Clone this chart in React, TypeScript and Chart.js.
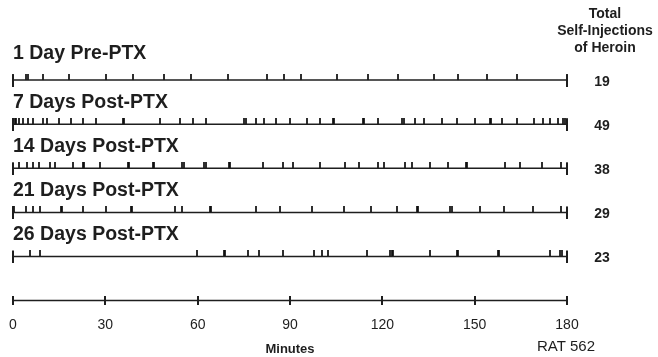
import React, { useEffect, useRef } from "react";
import { Chart, registerables } from "chart.js";

Chart.register(...registerables);

const rowLabels = ["1 Day Pre-PTX", "7 Days Post-PTX", "14 Days Post-PTX", "21 Days Post-PTX", "26 Days Post-PTX"];
const totals = [19, 49, 38, 29, 23];
const headerLines = ["Total", "Self-Injections", "of Heroin"];
const axisTicks = [0, 30, 60, 90, 120, 150, 180];
const sessionStart = 0;
const sessionEnd = 180;

const day1Pre = [4.2, 4.8, 9.7, 18.3, 30.2, 39.1, 48.9, 57.8, 69.8, 82.5, 88.1, 93.6, 105.3, 115.2, 125.0, 136.7, 144.5, 154.0, 163.8];
const day7Post = [0.1, 0.5, 1.0, 2.0, 3.1, 5.0, 6.6, 9.6, 11.1, 15.1, 18.8, 22.7, 27.0, 35.7, 36.1, 47.8, 54.3, 58.4, 62.7, 75.2, 75.6, 79.0, 81.4, 85.5, 90.1, 95.5, 99.8, 104.0, 104.4, 113.7, 114.1, 118.5, 126.5, 126.9, 130.7, 133.7, 139.4, 144.3, 150.2, 154.9, 155.3, 158.9, 163.8, 169.2, 172.3, 174.6, 177.0, 178.8, 179.5];
const day14Post = [2.05, 4.45, 6.6, 8.55, 12.0, 13.7, 19.4, 22.7, 23.1, 28.3, 37.3, 37.7, 45.4, 45.8, 55.0, 55.4, 62.2, 62.6, 70.1, 70.5, 81.2, 87.7, 90.9, 99.8, 108.0, 112.3, 118.5, 120.7, 127.5, 129.7, 135.6, 141.2, 147.1, 147.5, 159.7, 164.7, 171.9, 178.1];
const day21Post = [0.1, 0.4, 4.2, 6.6, 8.8, 15.6, 16.0, 22.9, 30.2, 38.4, 38.8, 52.7, 54.9, 63.9, 64.3, 79.0, 86.6, 97.1, 107.4, 116.3, 124.8, 131.3, 131.7, 142.1, 142.5, 151.6, 159.5, 169.0, 177.9];
const day26Post = [5.5, 8.8, 59.7, 68.4, 68.8, 76.2, 79.8, 87.7, 97.7, 100.4, 102.2, 115.0, 122.4, 123.0, 123.5, 135.4, 144.1, 144.5, 157.6, 158.0, 174.4, 177.8, 178.4];

const sessions = [day1Pre, day7Post, day14Post, day21Post, day26Post];

const FONT = "'Liberation Sans', Arial, Helvetica, sans-serif";
const INK = "#1e1e1e";

function makeMark(w: number, h: number, y0: number, y1: number, color: string) {
  const c = document.createElement("canvas");
  c.width = w;
  c.height = h;
  const ctx = c.getContext("2d")!;
  ctx.fillStyle = color;
  ctx.fillRect(0, y0, w, y1 - y0);
  return c;
}

export default function App() {
  const ref = useRef<HTMLCanvasElement | null>(null);

  useEffect(() => {
    if (!ref.current) return;
    const eventMark = makeMark(2, 12, 0, 6, "rgba(10,10,10,0.85)");
    const capMark = makeMark(2, 14, 1, 14, INK);
    const axisMark = makeMark(2, 9, 0, 9, INK);

    const nRows = sessions.length;
    const rowY = (i: number) => nRows - i;

    const datasets: any[] = [];
    sessions.forEach((ev, i) => {
      datasets.push({
        type: "scatter",
        data: [
          { x: sessionStart, y: rowY(i) },
          { x: sessionEnd, y: rowY(i) },
        ],
        showLine: true,
        borderColor: INK,
        borderWidth: 1.5,
        pointStyle: capMark,
        pointRadius: 7,
        clip: false,
      });
      datasets.push({
        type: "scatter",
        data: ev.map((t) => ({ x: t, y: rowY(i) })),
        showLine: false,
        pointStyle: eventMark,
        pointRadius: 6,
        clip: false,
      });
    });
    datasets.push({
      type: "scatter",
      data: axisTicks.map((t) => ({ x: t, y: 0 })),
      showLine: true,
      borderColor: INK,
      borderWidth: 1.5,
      pointStyle: axisMark,
      pointRadius: 5,
      clip: false,
    });

    const textPlugin = {
      id: "texts",
      afterDraw(chart: any) {
        const ctx = chart.ctx;
        const ys = chart.scales.y;
        ctx.save();
        ctx.fillStyle = INK;
        ctx.textBaseline = "alphabetic";
        ctx.textAlign = "left";
        ctx.font = `bold 19.5px ${FONT}`;
        rowLabels.forEach((lab, i) => {
          const py = ys.getPixelForValue(rowY(i));
          ctx.fillText(lab, 13, py - (i === 0 ? 21 : 16));
        });
        ctx.textAlign = "center";
        ctx.textBaseline = "middle";
        ctx.font = `bold 14px ${FONT}`;
        totals.forEach((n, i) => {
          const py = ys.getPixelForValue(rowY(i));
          ctx.fillText(String(n), 602, py + 2);
        });
        headerLines.forEach((h, k) => {
          ctx.fillText(h, 605, 14 + k * 17);
        });
        ctx.font = `15px ${FONT}`;
        ctx.fillText("RAT 562", 566, 347);
        ctx.restore();
      },
    };

    const chart = new Chart(ref.current, {
      type: "scatter",
      data: { datasets },
      options: {
        responsive: false,
        animation: false,
        events: [],
        layout: { padding: { left: 13, right: 91, top: 58, bottom: 0 } },
        plugins: { legend: { display: false }, tooltip: { enabled: false } },
        scales: {
          x: {
            type: "linear",
            min: sessionStart,
            max: sessionEnd,
            position: "bottom",
            afterBuildTicks: (scale: any) => {
              scale.ticks = axisTicks.map((v) => ({ value: v }));
            },
            ticks: { padding: 8, font: { size: 14, family: FONT }, color: INK },
            grid: { display: false, drawTicks: true, tickLength: 8 },
            border: { display: false },
            title: {
              display: true,
              text: "Minutes",
              color: INK,
              font: { size: 13, weight: "bold", family: FONT },
              padding: { top: 0, bottom: 0 },
            },
          },
          y: { display: false, min: 0, max: 5.5 },
        },
      },
      plugins: [textPlugin],
    } as any);
    return () => chart.destroy();
  }, []);

  return (
    <div style={{ position: "fixed", left: 0, top: 0, width: 658, height: 357, background: "#fff" }}>
      <canvas ref={ref} width={658} height={357} style={{ width: 658, height: 357, display: "block" }} />
    </div>
  );
}
